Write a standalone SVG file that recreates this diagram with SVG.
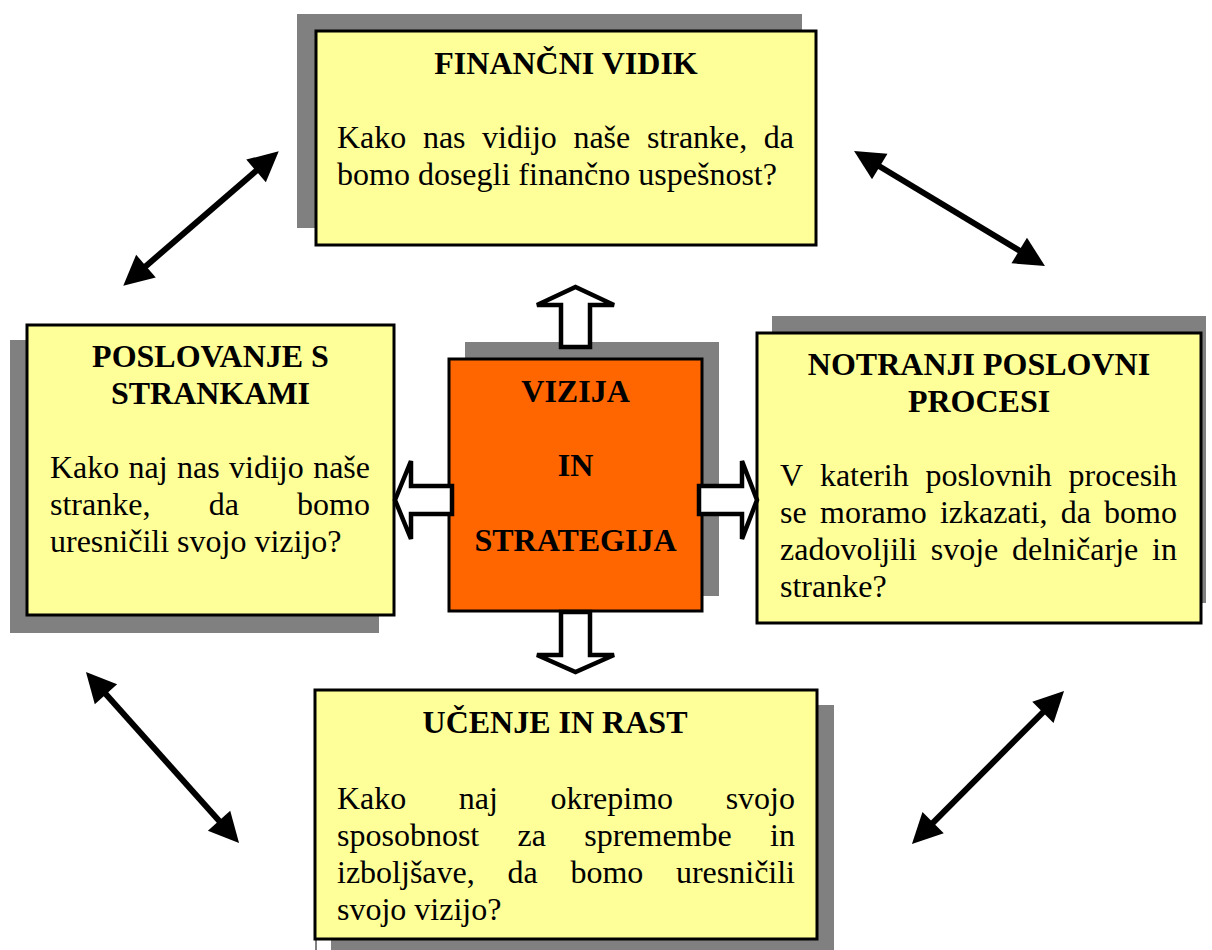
<svg xmlns="http://www.w3.org/2000/svg" width="1212" height="950" viewBox="0 0 1212 950">
<style>
.sh{fill:#808080}
.box{fill:#FFFF99;stroke:#000;stroke-width:3}
.core{fill:#FF6600;stroke:#000;stroke-width:3}
text{font-family:"Liberation Serif","Times New Roman",serif;font-size:32px;fill:#000}
.t{font-weight:bold;text-anchor:middle}
.e{text-anchor:end}
.blk{fill:#fff;stroke:#000;stroke-width:4.5;stroke-linejoin:miter}
.dbl{fill:none;stroke:#000;stroke-width:6;marker-start:url(#ah);marker-end:url(#ah)}
</style>
<defs>
<marker id="ah" markerUnits="userSpaceOnUse" markerWidth="32" markerHeight="32" viewBox="-2 -16 32 32" refX="0" refY="0" orient="auto-start-reverse">
<path d="M-1,-15 L29,0 L-1,15 Z" fill="#000"/>
</marker>
</defs>
<rect width="1212" height="950" fill="#fff"/>

<g id="financni">
<rect class="sh" x="297" y="14" width="505" height="214"/>
<rect class="box" x="316" y="31" width="500" height="214"/>
<text class="t" x="566" y="74">FINANČNI VIDIK</text>
<text x="337" y="148">Kako</text><text x="422.9" y="148">nas</text><text x="482.1" y="148">vidijo</text><text x="573.4" y="148">naše</text><text x="646.9" y="148">stranke,</text><text class="e" x="794" y="148">da</text>
<text x="337" y="185">bomo dosegli finančno uspešnost?</text>
</g>

<g id="stranke">
<rect class="sh" x="10" y="340" width="369" height="293"/>
<rect class="box" x="27" y="325" width="367" height="290"/>
<text class="t" x="210.5" y="367">POSLOVANJE S</text>
<text class="t" x="210.5" y="404">STRANKAMI</text>
<text x="50" y="478">Kako</text><text x="128.6" y="478">naj</text><text x="177" y="478">nas</text><text x="229" y="478">vidijo</text><text class="e" x="370" y="478">naše</text>
<text x="50" y="515">stranke,</text><text x="208.7" y="515">da</text><text class="e" x="370" y="515">bomo</text>
<text x="50" y="552">uresničili svojo vizijo?</text>
</g>

<g id="procesi">
<rect class="sh" x="772" y="316" width="434" height="287"/>
<rect class="box" x="757" y="333" width="444" height="290"/>
<text class="t" x="979" y="375">NOTRANJI POSLOVNI</text>
<text class="t" x="979" y="412">PROCESI</text>
<text x="780" y="486">V</text><text x="819.9" y="486">katerih</text><text x="925.6" y="486">poslovnih</text><text class="e" x="1177" y="486">procesih</text>
<text x="780" y="523">se</text><text x="820" y="523">moramo</text><text x="939.9" y="523">izkazati,</text><text x="1060.7" y="523">da</text><text class="e" x="1177" y="523">bomo</text>
<text x="780" y="560">zadovoljili</text><text x="930.7" y="560">svoje</text><text x="1012.1" y="560">delničarje</text><text class="e" x="1177" y="560">in</text>
<text x="780" y="597">stranke?</text>
</g>

<g id="ucenje">
<rect class="sh" x="331" y="705" width="503" height="250"/>
<rect class="box" x="315" y="690" width="502" height="249"/>
<line x1="316" y1="940" x2="316" y2="950" stroke="#000" stroke-width="1"/>
<text class="t" x="555" y="733">UČENJE IN RAST</text>
<text x="337" y="809">Kako</text><text x="458.8" y="809">naj</text><text x="550.4" y="809">okrepimo</text><text class="e" x="795" y="809">svojo</text>
<text x="337" y="846">sposobnost</text><text x="517.5" y="846">za</text><text x="584.2" y="846">spremembe</text><text class="e" x="795" y="846">in</text>
<text x="337" y="883">izboljšave,</text><text x="507.5" y="883">da</text><text x="570.4" y="883">bomo</text><text class="e" x="795" y="883">uresničili</text>
<text x="337" y="920">svojo vizijo?</text>
</g>

<g id="vizija">
<rect class="sh" x="465" y="342" width="254" height="254"/>
<rect class="core" x="449" y="359" width="253" height="252"/>
<text class="t" x="575.5" y="402">VIZIJA</text>
<text class="t" x="575.5" y="476">IN</text>
<text class="t" x="575.5" y="551">STRATEGIJA</text>
</g>

<g id="connectors">
<path class="blk" d="M561,347 L561,305 L537,305 L575.5,287 L614,305 L590,305 L590,347 Z"/>
<path class="blk" d="M561,612 L561,655 L537,655 L575.5,672 L614,655 L590,655 L590,612 Z"/>
<path class="blk" d="M452,486 L411,486 L411,461 L395,500 L411,539 L411,514 L452,514 Z"/>
<path class="blk" d="M699,486 L742,486 L742,461 L757,500 L742,539 L742,514 L699,514 Z"/>
<line class="dbl" x1="145.2" y1="266.7" x2="256.8" y2="170.3"/>
<line class="dbl" x1="878.9" y1="166" x2="1020.1" y2="251"/>
<line class="dbl" x1="105.3" y1="693.6" x2="219.7" y2="821.4"/>
<line class="dbl" x1="1043.6" y1="711.6" x2="932.4" y2="823.4"/>
</g>
</svg>
